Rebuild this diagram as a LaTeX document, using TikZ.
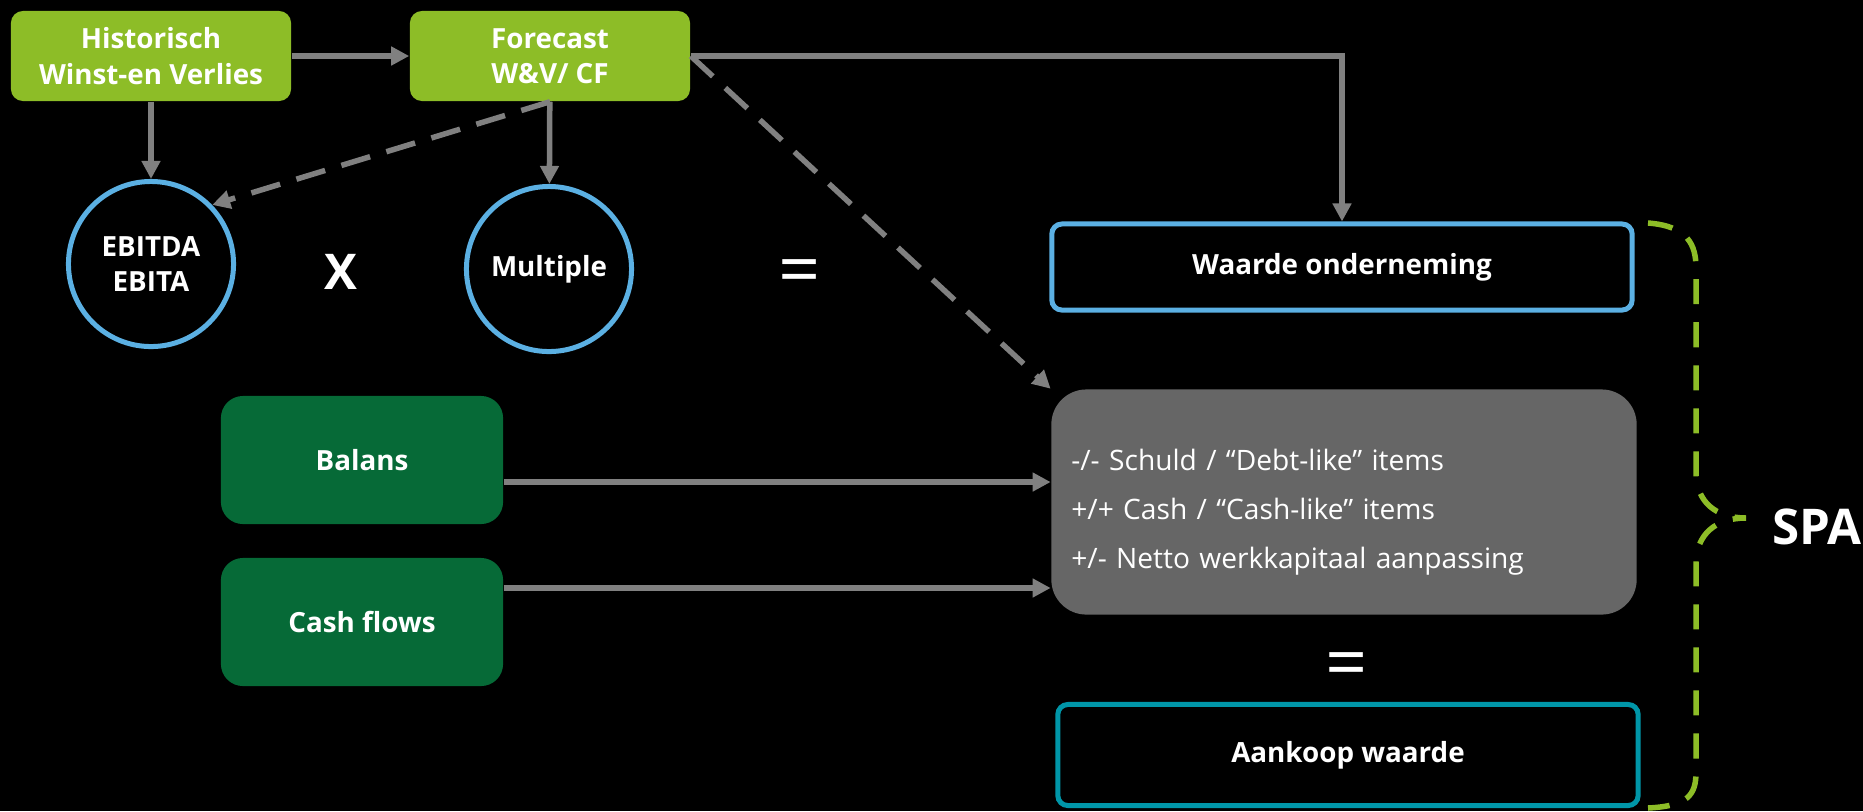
\documentclass[tikz,border=0pt]{standalone}
\usepackage{fontspec}
\setmainfont{Open Sans}
\usetikzlibrary{arrows.meta}
\definecolor{fcgreen}{HTML}{8DBD27}
\definecolor{dkgreen}{HTML}{066A37}
\definecolor{ringblue}{HTML}{5BB0E3}
\definecolor{tealrim}{HTML}{0096A8}
\definecolor{boxgray}{HTML}{666666}
\definecolor{arrgray}{HTML}{808080}
\newcommand{\nodefont}{\fontsize{7.9}{10}\selectfont}
\tikzset{
	greenbox/.style={fill=fcgreen, rounded corners=0.12cm, minimum width=2.8cm,
			minimum height=0.9cm, align=center, text=white, font=\nodefont\bfseries},
	dkbox/.style={fill=dkgreen, rounded corners=0.22cm, minimum width=2.82cm,
			minimum height=1.28cm, text=white, font=\nodefont\bfseries},
	ring/.style={circle, draw=ringblue, line width=0.05cm, minimum size=1.65cm,
			inner sep=0pt, align=center, text=white, font=\nodefont\bfseries},
	valbox/.style={line width=0.05cm, rounded corners=0.1cm, minimum width=5.8cm,
			text=white, font=\nodefont\bfseries},
	sign/.style={text=white, font=\fontsize{21}{24}\selectfont},
	arr/.style={draw=arrgray, line width=0.055cm, -{Triangle[length=0.18cm,width=0.18cm]}},
	dasharr/.style={arr, dash pattern=on 0.3cm off 0.17cm}
}

\begin{document}
\begin{tikzpicture}[x=0.01cm,y=-0.01cm]
    \fill[black] (0,0) rectangle (1863,811);
    \useasboundingbox (0,0) rectangle (1863,811);
    % top row
    \node[greenbox] (hist) at (151,56) {Historisch\\Winst-en Verlies};
    \node[greenbox] (fcst) at (550,56) {Forecast\\W\&V/ CF};
    % multiple valuation
    \node[ring] (ebitda) at (151,264) {EBITDA\\EBITA};
    \node[ring] (mult) at (549,269) {Multiple};
    \node[sign, font=\fontsize{14}{16}\selectfont\bfseries] (times) at (341,272) {X};
    \node[sign] (eq1) at (800,278) {=};
    \node[valbox, draw=ringblue, minimum height=0.86cm] (wo) at (1342,267) {Waarde onderneming};
    % adjustments
    \node[dkbox] (balans) at (362,460) {Balans};
    \node[dkbox] (cash) at (362,622) {Cash flows};
    \node[fill=boxgray, rounded corners=0.35cm, minimum width=5.85cm, minimum height=2.25cm]
        (adj) at (1344,502) {};
    \node[text width=5.45cm, align=left, text=white, font=\fontsize{8}{14}\selectfont]
        (adjtxt) at (1344,512) {-/- Schuld / “Debt-like” items\\+/+ Cash / “Cash-like” items\\+/- Netto werkkapitaal aanpassing};
    \node[sign] (eq2) at (1347,671) {=};
    \node[valbox, draw=tealrim, minimum height=1.01cm] (ak) at (1348,755) {Aankoop waarde};
    \node[text=white, font=\fontsize{14}{16}\selectfont\bfseries] (spa) at (1817,527) {SPA};
    % connectors
    \draw[arr] (hist) -- (fcst);
    \draw[arr] (hist) -- (ebitda);
    \draw[arr] (fcst) -- (mult);
    \draw[dasharr] (fcst.south) -- (ebitda.44);
    \draw[arr] (fcst.east) -| (wo.north);
    \draw[dasharr] (fcst.east) -- (adj.north west);
    \draw[arr] ([yshift=-0.22cm]balans.east) -- ([yshift=-0.22cm]balans.east -| adj.west);
    \draw[arr] ([yshift=0.34cm]cash.east) -- ([yshift=0.34cm]cash.east -| adj.west);
    % SPA brace
    \coordinate (tip) at (1746,518);
    \draw[fcgreen, line width=0.055cm, dash pattern=on 0.25cm off 0.18cm]
        (1648,223) .. controls (1688,226) and (1696,245) .. (1696,268) -- (1696,472)
        .. controls (1696,502) and (1716,518) .. (tip)
        .. controls (1716,518) and (1696,534) .. (1696,564) -- (1696,772)
        .. controls (1696,795) and (1688,806) .. (1648,808);
\end{tikzpicture}
\end{document}
